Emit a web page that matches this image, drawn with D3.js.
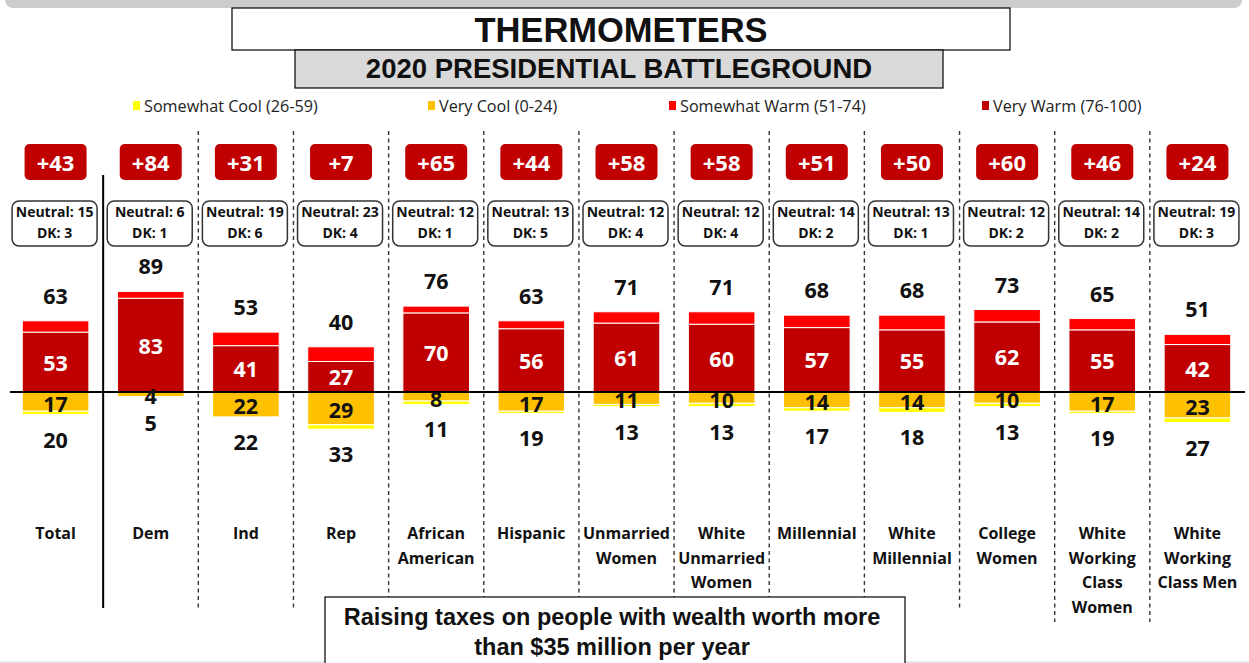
<!DOCTYPE html>
<html>
<head>
<meta charset="utf-8">
<script src="https://cdn.jsdelivr.net/npm/d3@7"></script>
<style>
  html, body { margin: 0; padding: 0; background: #fff; }
  svg { display: block; }
</style>
</head>
<body>
<svg id="chart" width="1249" height="663"></svg>
<script>
// ---------- DATA ----------
const categories = ["Total","Dem","Ind","Rep","African American","Hispanic","Unmarried Women",
  "White Unmarried Women","Millennial","White Millennial","College Women",
  "White Working Class Women","White Working Class Men"];
const categoryLines = [["Total"],["Dem"],["Ind"],["Rep"],["African","American"],["Hispanic"],
  ["Unmarried","Women"],["White","Unmarried","Women"],["Millennial"],["White","Millennial"],
  ["College","Women"],["White","Working","Class","Women"],["White","Working","Class Men"]];
const netScores    = [43,84,31,7,65,44,58,58,51,50,60,46,24];
const neutral      = [15,6,19,23,12,13,12,12,14,13,12,14,19];
const dontKnow     = [3,1,6,4,1,5,4,4,2,1,2,2,3];
const totalWarm    = [63,89,53,40,76,63,71,71,68,68,73,65,51];
const veryWarm     = [53,83,41,27,70,56,61,60,57,55,62,55,42];
const somewhatWarm = [10,6,12,13,6,7,10,11,11,13,11,10,9];
const totalCool    = [20,5,22,33,11,19,13,13,17,18,13,19,27];
const veryCool     = [17,4,22,29,8,17,11,10,14,14,10,17,23];
const somewhatCool = [3,1,0,4,3,2,2,3,3,4,3,2,4];
const legendItems  = ["Somewhat Cool (26-59)","Very Cool (0-24)","Somewhat Warm (51-74)","Very Warm (76-100)"];
const titleText    = "THERMOMETERS";
const subtitleText = "2020 PRESIDENTIAL BATTLEGROUND";
const noteLines    = ["Raising taxes on people with wealth worth more","than $35 million per year"];

// ---------- STYLE ----------
const C = { vw:"#C00000", sw:"#FF0000", vc:"#FFC000", sc:"#FFFF00" };
const legendColors = [C.sc, C.vc, C.sw, C.vw];
const numFont = "'Open Sans', Lato, sans-serif";
const headFont = "'Liberation Sans', Arial, sans-serif";

const svg = d3.select("#chart");

// top gray strip
svg.append("rect").attr("x",5).attr("y",-20).attr("width",1237).attr("height",28)
  .attr("rx",8).attr("fill","#CCCCCC");
// bottom faint line
svg.append("line").attr("x1",0).attr("x2",1249).attr("y1",662).attr("y2",662)
  .attr("stroke","#D0D0D0").attr("stroke-width",1);

// title
svg.append("rect").attr("x",232).attr("y",8).attr("width",778).attr("height",42)
  .attr("fill","#fff").attr("stroke","#000").attr("stroke-width",1.2);
svg.append("text").attr("x",621).attr("y",42).attr("text-anchor","middle")
  .attr("font-family",headFont).attr("font-weight","bold").attr("font-size",34.5)
  .attr("fill","#111").text(titleText);
// subtitle
svg.append("rect").attr("x",295).attr("y",50).attr("width",648).attr("height",38)
  .attr("fill","#D9D9D9").attr("stroke","#000").attr("stroke-width",1.2);
svg.append("text").attr("x",619).attr("y",78).attr("text-anchor","middle")
  .attr("font-family",headFont).attr("font-weight","bold").attr("font-size",27.5)
  .attr("fill","#111").text(subtitleText);

// legend
const legendX = [133, 428, 669, 982];
const lg = svg.append("g").selectAll("g").data(legendItems).join("g")
  .attr("transform",(d,i)=>`translate(${legendX[i]},0)`);
lg.append("rect").attr("x",0).attr("y",101).attr("width",7).attr("height",9)
  .attr("fill",(d,i)=>legendColors[i]);
lg.append("text").attr("x",11).attr("y",112).attr("font-family",numFont)
  .attr("font-size",16.2).attr("fill","#222").text(d=>d);

// scales
const x = d3.scaleBand().domain(categories).range([8,1245]).paddingInner(0.3).paddingOuter(0.15);
const y = d3.scaleLinear().domain([0,100]).range([392,279]);
const bw = x.bandwidth();
const step = x.step();
const cx = c => x(c) + bw/2;

// separators
categories.slice(0,-1).forEach((c,i)=>{
  const sx = cx(c) + step/2;
  const l = svg.append("line").attr("x1",sx).attr("x2",sx)
    .attr("y1", i===0 ? 175 : 131).attr("y2", i===0 ? 608 : (i>=10 ? 622 : 610));
  if (i===0) l.attr("stroke","#000").attr("stroke-width",2);
  else l.attr("stroke","#3d3030").attr("stroke-width",1.4).attr("stroke-dasharray","4,3.5");
});

// badges
const badges = svg.append("g").selectAll("g").data(categories).join("g")
  .attr("transform",c=>`translate(${cx(c)},0)`);
badges.append("rect").attr("x",-31).attr("y",144).attr("width",62).attr("height",36)
  .attr("rx",5).attr("fill",C.vw);
badges.append("text").attr("y",170.5).attr("text-anchor","middle").attr("font-family",numFont)
  .attr("font-weight","bold").attr("font-size",22).attr("fill","#fff")
  .text((c,i)=>"+"+netScores[i]);

// neutral boxes
const nb = svg.append("g").selectAll("g").data(categories).join("g")
  .attr("transform",c=>`translate(${cx(c)-1},0)`);
nb.append("rect").attr("x",-42.5).attr("y",201).attr("width",85).attr("height",45)
  .attr("rx",7).attr("fill","#fff").attr("stroke","#333").attr("stroke-width",1.5);
nb.append("text").attr("y",217).attr("text-anchor","middle").attr("font-family",numFont)
  .attr("font-weight","bold").attr("font-size",14).attr("fill","#111")
  .text((c,i)=>"Neutral: "+neutral[i]);
nb.append("text").attr("y",237.5).attr("text-anchor","middle").attr("font-family",numFont)
  .attr("font-weight","bold").attr("font-size",14).attr("fill","#111")
  .text((c,i)=>"DK: "+dontKnow[i]);

// bars
const bars = svg.append("g");
categories.forEach((c,i)=>{
  const g = bars.append("g");
  const segs = [
    {y0:0, y1:veryWarm[i], f:C.vw},
    {y0:veryWarm[i], y1:veryWarm[i]+somewhatWarm[i], f:C.sw},
    {y0:-veryCool[i], y1:0, f:C.vc},
    {y0:-(veryCool[i]+somewhatCool[i]), y1:-veryCool[i], f:C.sc}
  ];
  segs.forEach(s=>{
    if (s.y1 - s.y0 <= 0) return;
    g.append("rect").attr("x",x(c)).attr("width",bw)
      .attr("y",y(s.y1)).attr("height",y(s.y0)-y(s.y1))
      .attr("fill",s.f).attr("stroke","#fff").attr("stroke-width",1);
  });
});

// zero line
svg.append("line").attr("x1",10).attr("x2",1245).attr("y1",y(0)).attr("y2",y(0))
  .attr("stroke","#000").attr("stroke-width",2);

// labels
const lab = svg.append("g").attr("font-family",numFont).attr("font-weight","bold")
  .attr("font-size",21.5).attr("text-anchor","middle");
categories.forEach((c,i)=>{
  const X = cx(c);
  lab.append("text").attr("x",X).attr("y",y(totalWarm[i])-17).attr("fill","#111").text(totalWarm[i]);
  lab.append("text").attr("x",X).attr("y",(y(veryWarm[i])+y(0))/2+1).attr("dy","0.35em")
    .attr("fill","#fff").text(veryWarm[i]);
  lab.append("text").attr("x",X).attr("y",(y(-veryCool[i])+y(0))/2+2.5).attr("dy","0.35em")
    .attr("fill","#111").text(veryCool[i]);
  lab.append("text").attr("x",X).attr("y",y(-totalCool[i])+33).attr("fill","#111").text(totalCool[i]);
});

// category labels
const cl = svg.append("g").attr("font-family",numFont).attr("font-weight","bold")
  .attr("font-size",16).attr("text-anchor","middle").attr("fill","#111");
categories.forEach((c,i)=>{
  const t = cl.append("text").attr("x",cx(c)).attr("y",539);
  categoryLines[i].forEach((ln,j)=>{
    t.append("tspan").attr("x",cx(c)).attr("dy", j===0 ? 0 : 24.5).text(ln);
  });
});

// bottom note box
svg.append("rect").attr("x",325).attr("y",597).attr("width",580).attr("height",80)
  .attr("fill","#fff").attr("stroke","#000").attr("stroke-width",1.2);
noteLines.forEach((ln,j)=>{
  svg.append("text").attr("x",612).attr("y",625 + j*30).attr("text-anchor","middle")
    .attr("font-family",headFont).attr("font-weight","bold").attr("font-size",23.5)
    .attr("fill","#111").text(ln);
});
</script>
</body>
</html>
